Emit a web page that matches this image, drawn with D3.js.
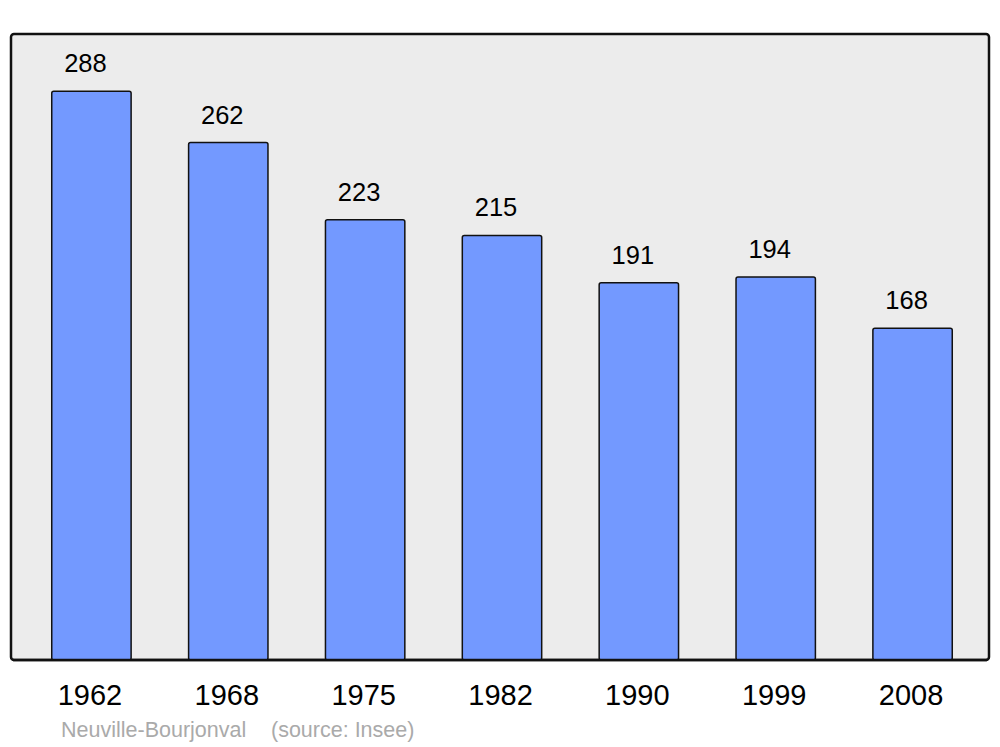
<!DOCTYPE html>
<html>
<head>
<meta charset="utf-8">
<script src="https://cdn.jsdelivr.net/npm/d3@7"></script>
<style>
  body { margin: 0; background: #fff; }
  text { font-family: "Liberation Sans", Arial, sans-serif; }
</style>
</head>
<body>
<div id="chart"></div>
<script>
// population by census year
var years = ["1962", "1968", "1975", "1982", "1990", "1999", "2008"];
var population = [288, 262, 223, 215, 191, 194, 168];
var townName = "Neuville-Bourjonval";
var sourceText = "(source: Insee)";

var svgWidth = 1000;
var svgHeight = 747;

// frame of the grey plotting panel
var panel = { left: 11, top: 34, right: 989, bottom: 660 };

var svg = d3.select("#chart")
  .append("svg")
  .attr("width", svgWidth)
  .attr("height", svgHeight);

// background panel
svg.append("rect")
  .attr("x", panel.left)
  .attr("y", panel.top)
  .attr("width", panel.right - panel.left)
  .attr("height", panel.bottom - panel.top)
  .attr("rx", 3)
  .attr("fill", "#ececec")
  .attr("stroke", "#111")
  .attr("stroke-width", 2.5);

var xScale = d3.scaleBand()
  .domain(years)
  .range([23, 981])
  .paddingInner(0.42)
  .paddingOuter(0.21);

var yScale = d3.scaleLinear()
  .domain([0, 317])
  .range([panel.bottom, panel.top]);

// bars
var barGroup = svg.append("g");
barGroup.selectAll("rect")
  .data(population)
  .enter()
  .append("rect")
  .attr("x", (d, i) => xScale(years[i]))
  .attr("y", d => yScale(d))
  .attr("width", xScale.bandwidth())
  .attr("height", d => panel.bottom - yScale(d))
  .attr("rx", 2)
  .attr("fill", "#7399ff")
  .attr("stroke", "#111")
  .attr("stroke-width", 1.5);

// redraw bottom border over bar feet
svg.append("line")
  .attr("x1", panel.left + 2)
  .attr("x2", panel.right - 2)
  .attr("y1", panel.bottom)
  .attr("y2", panel.bottom)
  .attr("stroke", "#111")
  .attr("stroke-width", 2.5);

// value labels
svg.append("g").selectAll("text")
  .data(population)
  .enter()
  .append("text")
  .attr("x", (d, i) => xScale(years[i]) + xScale.bandwidth() / 2 - 6)
  .attr("y", d => yScale(d) - 19)
  .attr("text-anchor", "middle")
  .attr("font-size", 25.5)
  .attr("fill", "#000")
  .text(d => d);

// year axis (no line, just labels)
var bottomAxis = d3.axisBottom(xScale).tickSize(0).tickPadding(0);
var xAxis = svg.append("g")
  .attr("transform", `translate(-1.5, 705)`)
  .call(bottomAxis);
xAxis.select(".domain").remove();
xAxis.selectAll("text")
  .attr("dy", 0)
  .attr("font-size", 29)
  .attr("font-family", "Liberation Sans, Arial, sans-serif")
  .attr("fill", "#000");

// footer
svg.append("text")
  .attr("x", 61)
  .attr("y", 737)
  .attr("font-size", 21.5)
  .attr("fill", "#aaaaaa")
  .text(townName);
svg.append("text")
  .attr("x", 271)
  .attr("y", 737)
  .attr("font-size", 21.5)
  .attr("fill", "#aaaaaa")
  .text(sourceText);
</script>
</body>
</html>
